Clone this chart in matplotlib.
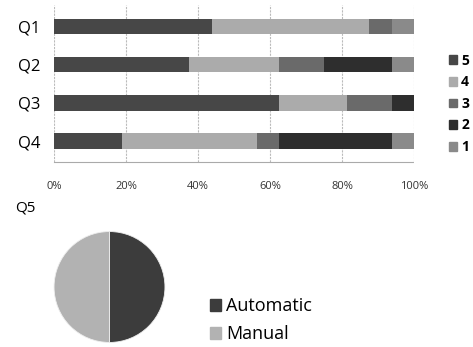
import numpy as np
import matplotlib.pyplot as plt
from matplotlib.patches import Patch

plt.rcParams['font.family'] = ['Open Sans', 'DejaVu Sans']

# Donnees (parts en %, 16 reponses)
questions = ['Q1', 'Q2', 'Q3', 'Q4']
levels = ['5', '4', '3', '2', '1']
shares = {
    '5': [43.75, 37.5, 62.5, 18.75],
    '4': [43.75, 25.0, 18.75, 37.5],
    '3': [6.25, 12.5, 12.5, 6.25],
    '2': [0.0, 18.75, 6.25, 31.25],
    '1': [6.25, 6.25, 0.0, 6.25],
}
level_colors = ['#474747', '#ababab', '#6a6a6a', '#2e2e2e', '#8a8a8a']
ticks = [0, 20, 40, 60, 80, 100]
tick_labels = ['0%', '20%', '40%', '60%', '80%', '100%']

pie_labels = ['Automatic', 'Manual']
pie_values = [50, 50]
pie_colors = ['#3c3c3c', '#b2b2b2']

fig = plt.figure(figsize=(4.73, 3.47), dpi=100)

# -----------------------------------------------------------------
# Barres empilees Q1-Q4
# -----------------------------------------------------------------
ax = fig.add_axes([54 / 473, 1 - 162 / 347, 360 / 473, 157 / 347])
y = np.arange(len(questions))
left = np.zeros(len(questions))
for lev, col in zip(levels, level_colors):
    vals = np.array(shares[lev])
    ax.barh(y, vals, left=left, height=0.4, color=col, label=lev)
    left += vals

ax.set_xlim(0, 100)
ax.set_ylim(3.55, -0.57)
ax.set_yticks(y)
ax.set_yticklabels(questions, fontsize=12)
ax.set_xticks(ticks)
ax.set_xticklabels(tick_labels, fontsize=8, color='#333333')
ax.tick_params(axis='both', length=0, pad=14)
ax.tick_params(axis='y', pad=10)
ax.grid(axis='x', color='#bbbbbb', linewidth=0.8, linestyle=(0, (2, 1)))
ax.set_axisbelow(True)
for side in ['top', 'left', 'right']:
    ax.spines[side].set_visible(False)
ax.spines['bottom'].set_color('#aaaaaa')
ax.spines['bottom'].set_linestyle((0, (2, 1)))

handles = [Patch(color=c, label=l) for l, c in zip(levels, level_colors)]
fig.legend(handles=handles, loc='upper left', bbox_to_anchor=(443 / 473, 1 - 48 / 347),
           frameon=False, prop=dict(size=10, weight='bold'), handlelength=0.6,
           handleheight=0.6, handletextpad=0.3, labelspacing=0.55, borderaxespad=0)

# -----------------------------------------------------------------
# Camembert Q5
# -----------------------------------------------------------------
fig.text(15 / 473, 1 - 208 / 347, 'Q5', fontsize=11, va='center', ha='left')

axp = fig.add_axes([53.5 / 473, 1 - 343 / 347, 112 / 473, 112 / 347])
axp.pie(pie_values, colors=pie_colors, startangle=90, counterclock=False,
        wedgeprops=dict(linewidth=0.6, edgecolor='#eeeeee'))
axp.set_xlim(-1.01, 1.01)
axp.set_ylim(-1.01, 1.01)
axp.set_aspect('equal')

handles_p = [Patch(color=c, label=l) for l, c in zip(pie_labels, pie_colors)]
fig.legend(handles=handles_p, loc='upper left', bbox_to_anchor=(203 / 473, 1 - 290 / 347),
           frameon=False, fontsize=13, handlelength=0.6, handleheight=0.6,
           handletextpad=0.3, labelspacing=0.55, borderaxespad=0)

fig.savefig('out.png', dpi=100)
